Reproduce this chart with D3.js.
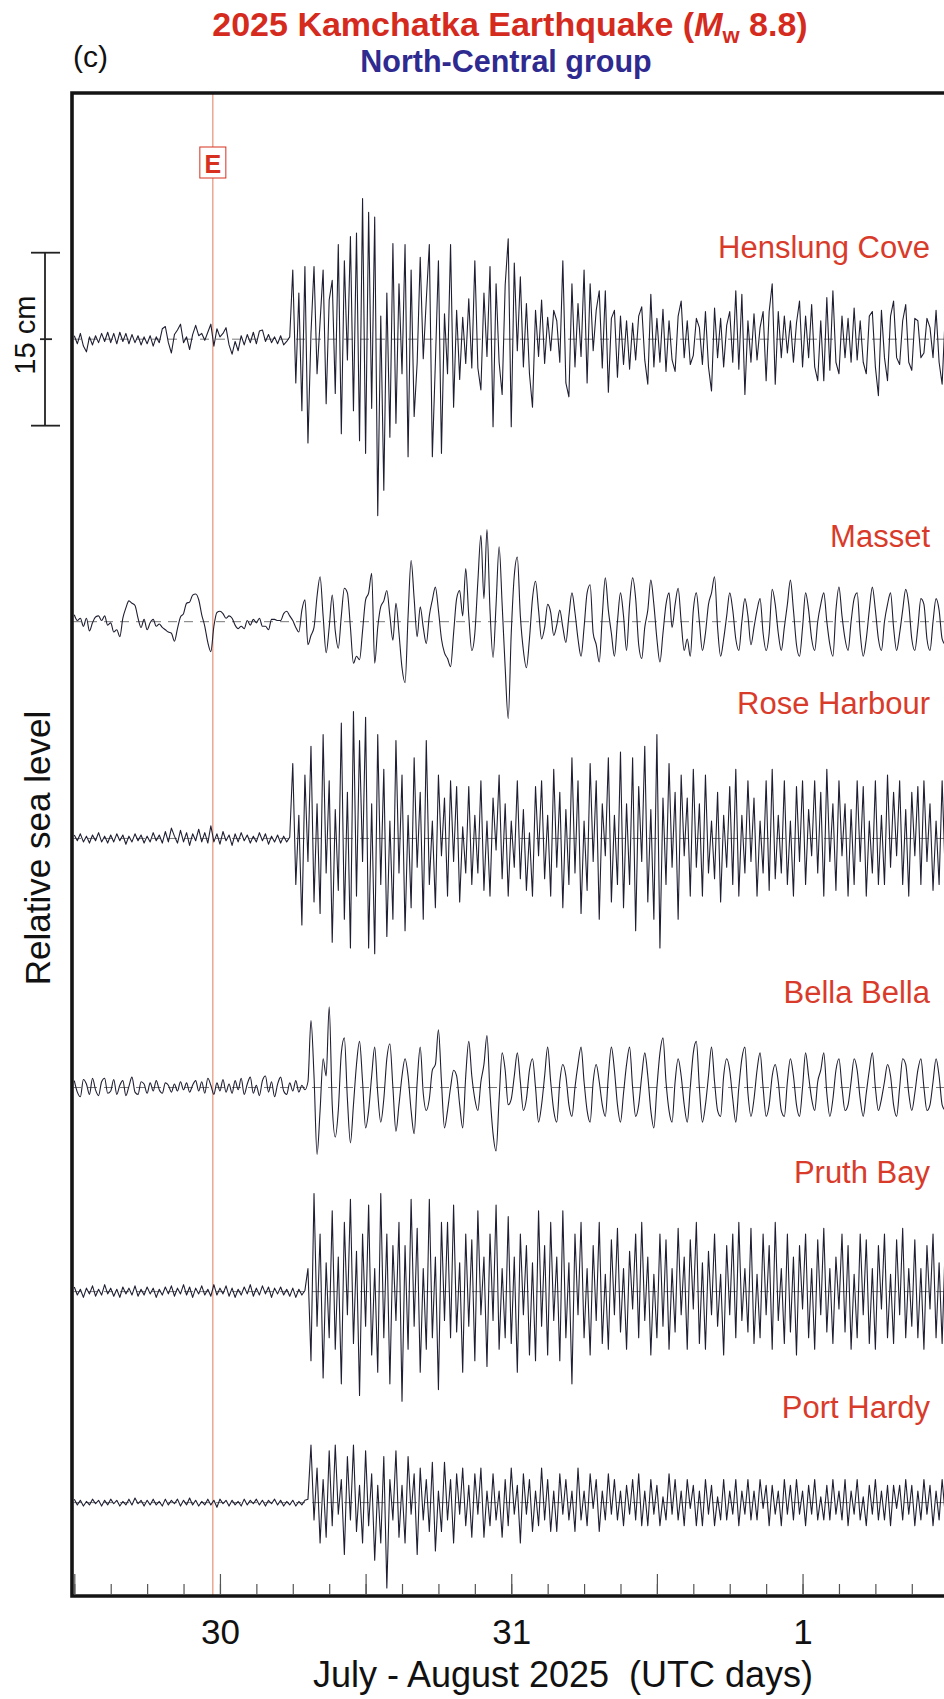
<!DOCTYPE html>
<html>
<head>
<meta charset="utf-8">
<script src="https://cdn.jsdelivr.net/npm/d3@7"></script>
<style>
  html, body { margin: 0; padding: 0; background: #fff; }
  svg { display: block; font-family: "Liberation Sans", Arial, Helvetica, sans-serif; }
</style>
</head>
<body>
<svg id="chart" width="944" height="1699"></svg>
<script>
// ---- data: sea-level residuals (cm), one sample every 15 minutes from 29 July 12:00 UTC ----
const stations = ["Henslung Cove", "Masset", "Rose Harbour", "Bella Bella", "Pruth Bay", "Port Hardy"];
const sampleStartUTC = Date.UTC(2025, 6, 29, 12, 0);
const sampleMinutes = 15;
const quakeTimeUTC = Date.UTC(2025, 6, 29, 23, 24, 50);
const quakeMarker = "E";

const henslungCove = [
  0.3,-0.4,0.5,-0.6,-1.1,0.2,-0.5,0.3,-0.3,0.5,
  -0.2,0.6,-0.3,0.5,-0.4,0.6,-0.2,0.5,-0.4,0.4,
  -0.3,0.3,-0.5,0.2,-0.4,0.3,-0.6,0.2,-0.3,0.9,
  1.1,-0.3,-1.2,0.4,0.8,1.3,-0.3,0.2,-0.9,0.4,
  1.2,0.3,0.5,-0.1,0.6,1.3,-0.6,0.9,0.2,0.5,
  1.0,-0.5,-1.3,-0.2,-1.0,0.3,-0.5,0.4,-0.3,0.6,
  -0.4,0.7,0.8,-0.2,0.4,-0.3,0.2,-0.4,0.3,-0.5,
  -0.2,
  0.2,6.0,-3.8,4.0,-6.2,6.3,-9.0,0.5,6.3,-3.0,
  1.5,6.0,-5.6,3.4,5.1,-4.7,8.2,-8.2,6.8,-1.8,
  8.9,-6.2,9.2,-8.8,12.2,-9.9,11.0,-6.0,10.6,-15.3,
  2.0,-13.1,4.0,-8.5,8.3,-7.3,4.8,-3.0,8.2,-10.2,
  6.0,-6.7,-2.0,7.1,-1.7,3.4,8.2,-10.2,-2.0,6.8,
  -9.9,2.2,-3.0,8.2,-5.9,2.5,-3.5,1.9,-2.1,3.5,
  -2.5,6.8,-2.5,-4.4,4.0,-1.5,6.3,-7.6,4.8,-2.0,
  -4.8,4.7,8.7,-7.6,6.6,-1.0,5.4,-2.4,3.1,-3.0,
  -5.9,2.5,-1.5,3.4,-2.1,1.9,-1.0,2.5,1.6,-2.0,
  6.8,-3.8,-5.0,4.8,-2.4,3.1,-1.5,6.0,-3.8,4.8,
  -1.0,2.5,4.2,-2.5,4.2,
  -4.6,1.8,2.5,-3.3,2.0,-2.2,1.6,-2.6,1.4,-1.8,
  2.0,2.8,-1.8,-3.9,3.9,-2.4,1.8,-2.0,2.6,-2.8,
  1.6,-1.8,-2.8,2.0,3.3,-1.6,1.6,-2.2,-1.4,1.8,
  1.0,-2.2,2.4,-2.4,-4.5,2.7,-1.6,1.8,-2.4,1.2,
  2.4,-2.0,4.2,-2.6,3.9,-4.8,1.6,-2.0,2.2,-1.8,
  1.0,2.4,-3.6,2.4,4.8,-3.9,2.4,-1.6,2.0,-1.2,
  1.6,-2.0,1.4,3.3,-2.4,2.0,-1.6,3.0,-2.4,-3.6,
  1.6,-3.6,3.6,-2.7,4.2,-2.0,-3.0,2.0,-1.6,1.8,
  -2.0,2.7,-1.8,1.6,-2.0,-3.0,2.0,2.4,-2.4,-4.9,
  2.5,-1.6,-3.6,2.0,3.3,-1.6,-2.2,1.6,3.0,-2.0,
  -2.7,1.8,1.6,-1.6,-1.2,1.8,1.0,-1.6,2.5,-2.0,-3.9,2.0
];

const masset = [
  0.6,0.1,0.3,-0.4,0.3,-0.8,-0.1,0.4,0.5,0.1,
  0.5,-0.3,-0.1,-0.9,-0.7,-1.3,0.3,1.2,1.8,1.6,
  1.4,0.3,-0.5,0.2,-0.7,-0.1,0.2,-0.4,-0.2,-0.5,
  -0.7,-0.9,-1.0,-1.7,-0.6,0.4,0.7,1.6,1.7,2.3,
  2.4,1.9,0.6,-0.4,-1.8,-2.6,-0.4,0.8,0.9,0.7,
  0.3,0.5,0.3,-0.3,-0.6,-0.4,-0.6,0.1,-0.3,0.2,
  -0.1,0.3,-0.4,-0.4,-0.7,0.2,0.2,0.1,0.1,0.7,
  0.9,0.5,0.1,-0.5,-0.9,
  1.0,1.9,-2.0,-1.2,-0.5,2.2,3.9,0.5,-2.7,-0.5,
  2.3,-0.8,-2.3,0.5,2.9,2.5,-0.5,-3.6,-3.0,-3.3,
  -0.8,1.9,2.5,4.2,-3.6,-0.5,1.3,1.8,2.7,0.5,
  -1.6,1.6,-1.0,-4.0,-5.3,0.5,5.3,2.0,-1.3,1.3,
  -0.5,-1.9,0.5,1.9,3.0,1.0,-1.5,-2.7,-3.2,-3.9,
  -1.0,2.0,2.7,0.5,4.6,0.5,-2.5,-1.0,3.5,7.5,
  2.0,8.0,1.0,-3.1,1.5,6.5,1.5,-4.0,-8.4,-1.0,
  4.0,5.6,0.5,-2.5,-4.0,-1.5,2.0,3.5,
  1.0,-1.5,-0.5,1.5,0.8,-1.2,-0.3,1.0,-0.5,-1.8,
  0.5,2.5,0.8,-1.5,-3.0,-0.5,2.5,3.2,-1.0,-2.0,
  -3.5,0.5,3.8,1.0,-1.0,-3.0,0.0,2.5,0.5,-2.5,
  1.5,3.8,2.0,-2.0,-3.2,-0.5,1.0,3.6,1.5,-1.5,
  -3.5,-1.0,1.5,2.5,-0.5,1.5,2.9,0.0,-2.5,-1.5,
  -3.0,1.0,2.5,0.0,-2.5,-1.0,1.5,2.5,3.9,-0.5,
  -3.0,-1.5,0.5,2.5,1.0,-1.5,-2.5,0.0,2.0,0.5,
  -2.0,-0.5,1.0,2.0,-1.0,-2.5,-1.0,2.8,1.5,-1.0,
  -2.5,-0.5,1.5,3.6,1.0,-2.0,-3.0,-0.5,2.5,1.0,
  -1.5,-2.5,0.0,1.5,2.5,0.0,-2.0,-3.0,1.0,3.0,
  0.5,-1.5,-2.5,0.0,2.0,2.5,-1.0,-3.0,-1.5,1.0,
  3.0,1.0,-1.5,-2.5,0.0,1.5,2.5,-0.5,-2.5,-1.0,
  1.0,2.8,1.5,-1.5,-2.5,-0.5,2.0,1.5,-1.5,-2.5,
  0.0,2.0,1.0,-1.5,-2.0
];

const roseHarbour = [
  0.3,-0.2,0.4,-0.3,0.2,-0.4,0.3,-0.2,0.5,-0.3,
  0.2,-0.4,0.3,-0.3,0.4,-0.2,0.3,-0.5,0.2,-0.3,
  0.4,-0.2,0.3,-0.4,0.2,-0.3,0.5,-0.2,0.3,-0.4,
  0.6,-0.3,0.9,0.2,-0.4,0.7,-0.3,0.5,-0.6,0.4,
  -0.2,0.8,-0.3,0.5,-0.4,1.1,-0.3,0.4,-0.5,0.6,
  -0.2,0.3,-0.6,0.4,-0.3,0.5,-0.2,0.3,-0.4,0.2,
  -0.3,0.5,-0.2,0.4,-0.5,0.2,-0.3,0.3,-0.4,0.2,
  -0.3,0.1,
  6.5,-4.0,2.0,-7.5,5.5,-2.0,8.0,-5.5,3.0,-6.5,
  9.0,-3.0,5.0,-9.0,2.5,-4.5,10.0,-7.0,4.0,-9.5,
  11.0,-5.0,8.5,-2.0,10.5,-9.5,3.0,-10.0,9.0,-4.0,
  6.0,-8.5,1.5,-7.0,8.5,-3.0,5.5,-8.0,2.0,-6.0,
  7.0,-2.5,4.0,-7.0,8.5,-4.0,1.5,-6.0,5.5,-1.5,
  3.5,-5.0,5.0,-2.0,4.5,-5.5,1.0,-3.0,4.5,-4.0,
  2.0,-3.0,5.0,-4.5,1.5,-5.0,3.5,-1.0,5.5,-3.5,
  3.0,-5.0,1.5,-2.5,5.0,-3.5,2.5,-4.5,0.5,-5.0,
  4.5,-1.5,5.0,-3.5,2.0,-5.0,6.0,-2.5,4.0,-6.0,
  2.5,-4.0,7.0,-3.0,5.0,-6.5,1.5,-4.5,6.5,-2.0,
  5.0,-7.0,3.0,-1.5,7.0,-5.5,2.0,-4.0,7.5,-6.0,
  3.0,-4.0,7.0,-8.0,4.5,-2.0,8.0,-5.5,2.5,-7.0,
  9.0,-9.5,3.5,-4.0,6.5,-2.5,4.0,-7.0,5.5,-1.5,
  3.5,-5.0,6.0,-2.5,3.0,-5.0,5.5,-3.0,1.5,-3.5,
  4.0,-5.5,2.0,-2.5,4.5,-4.0,6.0,-5.0,2.0,-3.0,
  5.0,-2.0,3.5,-5.0,1.5,-3.0,5.0,-4.5,6.0,-3.5,
  2.0,-3.0,5.0,-4.0,1.5,-5.0,4.5,-2.0,5.0,-4.0,
  2.5,-1.5,5.0,-3.0,4.0,-5.0,6.0,-2.0,3.0,-4.5,
  5.0,-1.5,3.0,-5.0,2.5,-4.0,5.0,-2.0,4.5,-5.0,
  1.5,-3.0,5.0,-4.0,2.0,-4.0,5.5,-2.5,4.0,-1.5,
  5.0,-4.0,2.5,-5.0,4.0,-1.5,4.5,-4.0,5.0,-2.0,
  3.0,-4.5,1.5,-4.0,5.0,-3.0
];

const bellaBella = [
  0.6,-0.4,-0.8,0.7,0.3,-0.6,0.8,-0.2,-0.7,0.5,
  0.8,-0.5,-0.3,0.7,-0.6,0.2,0.6,-0.7,0.1,0.9,
  -0.4,-0.6,0.5,0.3,-0.5,0.4,-0.3,0.6,-0.2,-0.5,
  0.4,0.2,-0.4,0.3,-0.3,0.5,-0.2,0.4,-0.4,0.2,
  0.6,-0.3,0.5,-0.5,0.8,0.2,-0.6,0.4,-0.3,0.7,
  -0.4,0.3,-0.5,0.6,-0.2,0.8,-0.6,0.3,0.9,-0.5,
  0.2,-0.7,0.6,1.0,-0.4,0.5,-0.8,0.3,0.9,-0.3,
  -0.6,0.4,-0.3,0.6,-0.4,0.2,-0.2,
  0.5,5.8,1.0,-5.8,-2.0,2.5,1.0,7.0,-1.5,-4.3,
  -2.0,3.0,4.3,-1.0,-4.8,-1.5,2.0,4.0,0.5,-3.5,
  -2.0,1.0,3.5,-0.5,-3.0,-1.0,2.5,3.8,0.0,-3.8,
  -1.5,1.0,2.5,1.0,-2.0,-4.0,0.5,3.5,-0.5,-2.0,
  -1.0,1.5,2.0,5.0,0.5,-3.5,-2.0,0.0,1.5,1.0,
  -1.5,-3.5,1.0,4.0,1.0,-1.0,-2.0,0.5,2.0,4.5,
  -0.5,-4.0,-5.5,-1.0,3.0,1.5,-1.5,-1.0,1.0,3.0,
  0.5,-2.0,-1.0,1.5,2.5,0.0,-3.0,-1.5,1.0,3.5,
  0.5,-2.0,-3.0,0.5,2.0,1.0,-1.5,-2.5,0.0,2.0,
  3.5,0.5,-2.0,-3.0,0.5,2.0,0.5,-1.5,-2.5,1.0,
  3.5,1.5,-1.5,-3.0,-0.5,2.0,3.5,0.0,-2.5,-1.5,
  1.0,3.0,1.0,-2.0,-3.5,0.0,3.0,4.3,0.5,-2.0,
  -3.0,0.5,2.5,1.0,-1.5,-3.0,0.0,3.0,4.0,0.0,
  -3.0,-1.5,1.0,3.5,0.5,-2.0,-2.5,1.0,2.5,1.5,
  -1.0,-3.0,0.0,2.5,3.5,-0.5,-2.5,-1.0,1.5,3.0,
  0.0,-2.5,-1.5,1.0,2.0,0.5,-2.0,-2.5,0.5,2.5,
  1.0,-1.5,-2.5,0.0,3.0,1.0,-1.0,-2.0,0.5,1.5,
  3.0,-0.5,-2.5,-1.0,1.5,2.5,0.0,-2.0,-1.5,0.5,
  2.5,1.5,-1.0,-2.5,-0.5,1.5,3.0,0.0,-2.0,-1.0,
  0.5,2.0,1.0,-1.5,-2.5,0.0,2.5,2.0,-0.5,-2.0,
  -0.5,1.5,2.5,0.0,-2.0,-1.5,0.5,2.5,1.0,-1.5,-2.0
];

const pruthBay = [
  0.4,-0.3,0.2,-0.5,0.3,-0.2,0.5,-0.4,0.2,-0.3,
  0.6,-0.2,0.3,-0.4,0.2,-0.5,0.4,-0.2,0.3,-0.3,
  0.5,-0.4,0.2,-0.3,0.4,-0.2,0.3,-0.5,0.2,-0.3,
  0.4,-0.2,0.5,-0.4,0.3,-0.2,0.6,-0.3,0.4,-0.5,
  0.3,-0.2,0.5,-0.3,0.2,-0.4,0.6,-0.3,0.3,-0.2,
  0.5,-0.4,0.3,-0.5,0.2,-0.3,0.4,-0.2,0.6,-0.4,
  0.3,-0.3,0.5,-0.2,0.4,-0.5,0.3,-0.2,0.4,-0.3,
  0.2,-0.4,0.3,-0.5,0.2,-0.3,0.1,
  2.0,-6.0,8.5,-3.0,5.0,-7.5,2.5,-4.0,7.0,-5.0,
  3.0,-8.0,6.0,-2.0,8.0,-4.5,3.5,-9.0,5.0,-3.0,
  7.5,-5.5,2.0,-7.0,8.5,-4.0,5.0,-8.0,4.0,-2.5,
  6.0,-9.5,4.0,-5.0,8.0,-3.0,5.5,-7.0,2.0,-5.0,
  8.0,-4.0,3.0,-8.5,6.0,-2.5,6.0,-4.0,7.5,-3.5,
  2.5,-7.0,5.0,-3.0,4.5,-6.0,7.0,-2.0,3.0,-6.5,
  5.0,-2.5,7.5,-5.0,2.0,-4.0,6.5,-4.5,3.0,-7.0,
  5.0,-2.0,4.0,-5.5,2.5,-6.0,7.0,-3.0,4.0,-5.5,
  6.0,-2.5,3.0,-6.0,7.0,-4.0,2.5,-8.0,5.0,-2.0,
  6.0,-4.0,2.0,-5.5,4.0,-2.5,6.0,-4.5,1.5,-5.0,
  4.5,-2.0,5.5,-3.5,2.0,-5.0,3.5,-1.5,5.0,-4.0,
  6.0,-2.5,3.0,-5.5,1.5,-4.0,5.0,-3.0,4.5,-5.0,
  2.0,-3.5,5.5,-2.0,3.0,-5.0,4.5,-1.5,6.0,-4.5,
  2.5,-5.0,3.5,-2.0,5.0,-3.0,1.5,-5.5,4.0,-2.0,
  5.0,-4.0,6.0,-2.5,2.0,-3.5,5.5,-4.5,1.5,-4.0,
  5.0,-2.0,4.0,-5.0,6.0,-2.5,2.0,-4.5,5.0,-3.5,
  3.0,-5.5,4.0,-1.5,5.0,-4.0,2.0,-5.0,4.5,-2.0,
  5.5,-3.5,2.0,-4.5,3.0,-1.5,5.0,-3.5,4.0,-5.0,
  1.5,-4.0,5.0,-2.0,4.5,-4.5,2.0,-5.0,4.0,-1.5,
  5.0,-4.0,1.5,-4.5,4.5,-2.0,5.5,-4.0,2.0,-3.0,
  4.5,-4.0,2.0,-5.0,4.0,-1.5,5.0,-4.0,2.5,-4.5,4.0
];

const portHardy = [
  0.3,-0.2,0.2,-0.3,0.1,-0.2,0.3,-0.1,0.2,-0.3,
  0.2,-0.2,0.3,-0.1,0.2,-0.3,0.1,-0.2,0.3,-0.2,
  0.4,-0.1,0.2,-0.3,0.2,-0.2,0.3,-0.2,0.1,-0.3,
  0.3,-0.2,0.2,-0.1,0.3,-0.3,0.2,-0.2,0.4,-0.2,
  0.2,-0.3,0.1,-0.2,0.3,-0.2,0.2,-0.4,0.3,-0.1,
  0.2,-0.3,0.2,-0.2,0.1,-0.3,0.3,-0.2,0.2,-0.1,
  0.3,-0.2,0.2,-0.3,0.2,-0.1,0.3,-0.2,0.2,-0.3,
  0.1,-0.2,0.2,-0.3,0.1,-0.2,0.2,0.3,
  5.0,-1.5,3.0,-3.5,2.0,-3.0,4.5,-2.0,5.0,-1.0,
  2.0,-4.5,4.0,-1.5,5.0,-2.5,1.5,-3.5,4.5,-2.0,
  2.5,-5.0,1.5,-3.5,4.0,-7.4,2.0,-1.5,4.5,-3.0,
  1.5,-3.5,4.0,-1.0,2.5,-4.5,3.0,-1.5,2.0,-2.5,
  3.5,-4.2,1.0,-2.5,3.5,-1.5,2.0,-3.5,2.5,-1.0,
  3.0,-2.0,1.5,-3.0,2.5,-1.0,3.0,-3.0,1.0,-2.0,
  2.5,-1.5,1.0,-3.0,2.0,-2.0,3.0,-1.0,1.5,-3.5,
  2.5,-1.0,2.0,-2.5,1.0,-2.0,3.0,-1.5,2.0,-2.5,
  1.0,-2.5,2.5,-1.0,2.0,-1.5,1.0,-2.5,3.0,-1.5,
  1.0,-2.0,2.5,-0.5,2.0,-2.5,1.0,-1.5,2.5,-1.0,
  2.0,-1.5,1.0,-2.0,1.5,-1.0,2.0,-1.5,2.5,-2.0,
  1.0,-2.0,2.0,-1.0,1.5,-2.0,0.5,-1.5,2.5,-1.0,
  2.0,-1.5,1.0,-2.0,2.0,-0.5,1.5,-2.0,1.0,-2.0,
  2.0,-1.0,1.5,-2.0,0.5,-1.5,2.0,-1.5,1.0,-1.0,
  2.0,-2.0,1.0,-1.0,2.0,-1.5,1.0,-1.5,2.0,-0.5,
  1.5,-2.0,1.5,-1.0,1.0,-2.0,2.0,-1.0,1.5,-1.5,
  2.0,-1.0,1.0,-2.0,1.5,-1.0,2.0,-1.5,0.5,-1.5,
  1.5,-1.5,2.0,-1.0,1.0,-1.5,2.0,-2.0,1.0,-1.0,
  2.0,-1.5,0.5,-2.0,1.5,-1.0,2.0,-1.5,1.0,-1.5,
  1.5,-2.0,1.5,-0.5,1.5,-1.5,2.0,-1.0,1.5,-2.0,
  1.0,-1.5,2.0,-1.0,1.5,-2.0,1.0,-1.5,2.0,-1.0
];

const series = [henslungCove, masset, roseHarbour, bellaBella, pruthBay, portHardy];
const scaleBarCm = 15;

// ---- layout ----
const W = 944, H = 1699;
const frame = { left: 72, top: 93, bottom: 1596 };
const traceOffsetCm = [109.0, 84.5, 65.7, 44.1, 26.4, 8.1];   // baseline of each record above frame bottom
const labelLiftCm   = [7.0, 6.5, 10.75, 7.3, 9.45, 7.3];       // station name above its baseline
const smoothTrace   = [false, true, false, true, false, false];

const svg = d3.select("#chart");

const x = d3.scaleUtc()
  .domain([new Date(Date.UTC(2025, 6, 29, 12)), new Date(Date.UTC(2025, 7, 1, 12))])
  .range([74.3, 948.2]);

const y = d3.scaleLinear()
  .domain([0, 130.35])
  .range([frame.bottom, frame.top]);

const timeOf = i => new Date(sampleStartUTC + i * sampleMinutes * 60000);

svg.append("defs").append("clipPath").attr("id", "plotClip")
  .append("rect")
  .attr("x", frame.left + 1.5).attr("y", frame.top + 1.5)
  .attr("width", W - frame.left).attr("height", frame.bottom - frame.top - 3);

// ---- earthquake time marker ----
const xq = x(new Date(quakeTimeUTC));
svg.append("line")
  .attr("x1", xq).attr("x2", xq)
  .attr("y1", frame.top).attr("y2", frame.bottom)
  .attr("stroke", "#e2886c").attr("stroke-width", 1.1);

// ---- records ----
const plot = svg.append("g").attr("clip-path", "url(#plotClip)");

series.forEach((vals, k) => {
  const base = traceOffsetCm[k];
  plot.append("line")
    .attr("x1", frame.left).attr("x2", W)
    .attr("y1", y(base)).attr("y2", y(base))
    .attr("stroke", "#555").attr("stroke-width", 0.8)
    .attr("stroke-dasharray", "9,7");

  const line = d3.line()
    .x((d, i) => x(timeOf(i)))
    .y(d => y(base + d))
    .curve(smoothTrace[k] ? d3.curveMonotoneX : d3.curveLinear);

  plot.append("path")
    .datum(vals)
    .attr("d", line)
    .attr("fill", "none")
    .attr("stroke", "#1f1f33")
    .attr("stroke-width", 1.1)
    .attr("stroke-linejoin", "round");

  svg.append("text")
    .attr("x", 930)
    .attr("y", y(base + labelLiftCm[k]))
    .attr("text-anchor", "end")
    .attr("font-size", 31)
    .attr("fill", "#d93b2b")
    .text(stations[k]);
});

// ---- E marker box ----
const eg = svg.append("g");
eg.append("rect")
  .attr("x", xq - 13).attr("y", 147)
  .attr("width", 26).attr("height", 31)
  .attr("fill", "#fff").attr("stroke", "#d7301f").attr("stroke-width", 1);
eg.append("text")
  .attr("x", xq).attr("y", 172.5)
  .attr("text-anchor", "middle")
  .attr("font-size", 25).attr("font-weight", "bold")
  .attr("fill", "#d7301f")
  .text(quakeMarker);

// ---- time axis (ticks inside the frame, every 3 h; taller every 12 h) ----
const axisY = frame.bottom - 2;
const styleAxis = g => {
  g.select(".domain").remove();
  g.selectAll(".tick line").attr("stroke", "#555").attr("stroke-width", 1.2);
};
svg.append("g")
  .attr("transform", `translate(0,${axisY})`)
  .call(d3.axisBottom(x).ticks(d3.utcHour.every(3)).tickSize(-10).tickFormat(""))
  .call(styleAxis);

const dayFmt = d3.utcFormat("%-d");
const major = svg.append("g")
  .attr("transform", `translate(0,${axisY})`)
  .call(d3.axisBottom(x).ticks(d3.utcHour.every(12)).tickSize(-20).tickPadding(25)
    .tickFormat(d => d.getUTCHours() === 0 ? dayFmt(d) : ""))
  .call(styleAxis);
major.attr("font-family", null).attr("font-size", null);
major.selectAll(".tick text")
  .attr("font-size", 35)
  .attr("fill", "#111");

// ---- frame (left, top and bottom; open to the right) ----
svg.append("path")
  .attr("d", `M${W + 20},${frame.top} H${frame.left} V${frame.bottom} H${W + 20}`)
  .attr("fill", "none")
  .attr("stroke", "#141414")
  .attr("stroke-width", 3.6);

// ---- vertical scale bar ----
const sb = svg.append("g").attr("stroke", "#222").attr("stroke-width", 1.8);
const sbMid = y(traceOffsetCm[0]);
const sbTop = y(traceOffsetCm[0] + scaleBarCm / 2);
const sbBot = y(traceOffsetCm[0] - scaleBarCm / 2);
sb.append("line").attr("x1", 45).attr("x2", 45).attr("y1", sbTop).attr("y2", sbBot);
sb.append("line").attr("x1", 31).attr("x2", 60).attr("y1", sbTop).attr("y2", sbTop);
sb.append("line").attr("x1", 31).attr("x2", 60).attr("y1", sbBot).attr("y2", sbBot);
sb.append("line").attr("x1", 40).attr("x2", 52).attr("y1", sbMid).attr("y2", sbMid);
svg.append("text")
  .attr("transform", `translate(35,${sbMid - 4}) rotate(-90)`)
  .attr("text-anchor", "middle")
  .attr("font-size", 29)
  .attr("fill", "#111")
  .text(`${scaleBarCm} cm`);

// ---- axis titles ----
svg.append("text")
  .attr("transform", "translate(50,848) rotate(-90)")
  .attr("text-anchor", "middle")
  .attr("font-size", 35)
  .attr("fill", "#111")
  .text("Relative sea level");

svg.append("text")
  .attr("x", 563).attr("y", 1687)
  .attr("text-anchor", "middle")
  .attr("font-size", 36)
  .attr("fill", "#111")
  .style("white-space", "pre")
  .text("July - August 2025  (UTC days)");

// ---- titles ----
const title = svg.append("text")
  .attr("x", 510).attr("y", 36)
  .attr("text-anchor", "middle")
  .attr("font-size", 34).attr("font-weight", "bold")
  .attr("fill", "#d52b1e");
title.append("tspan").text("2025 Kamchatka Earthquake (");
title.append("tspan").attr("font-style", "italic").text("M");
title.append("tspan").attr("font-size", 22).attr("dy", 7).text("w");
title.append("tspan").attr("dy", -7).text(" 8.8)");

svg.append("text")
  .attr("x", 506).attr("y", 71.5)
  .attr("text-anchor", "middle")
  .attr("font-size", 30.5).attr("font-weight", "bold")
  .attr("fill", "#2f2a8f")
  .text("North-Central group");

svg.append("text")
  .attr("x", 73).attr("y", 67)
  .attr("font-size", 30)
  .attr("fill", "#111")
  .text("(c)");
</script>
</body>
</html>
